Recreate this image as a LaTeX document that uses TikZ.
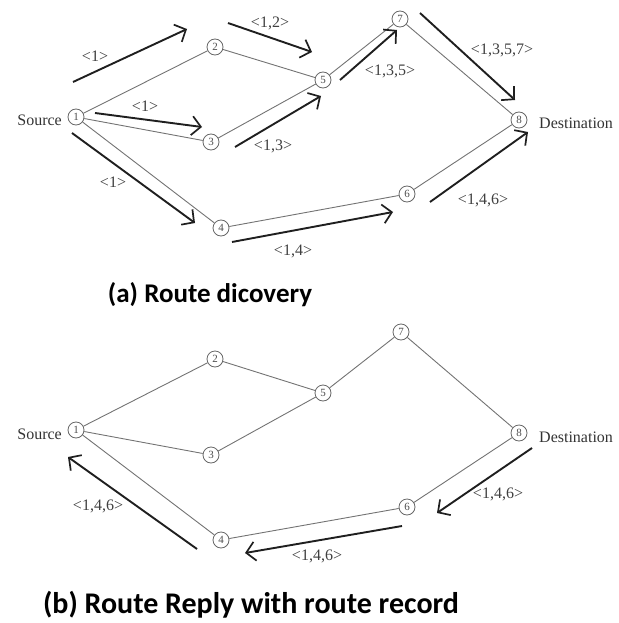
\documentclass[tikz,border=0pt]{standalone}
\usepackage{fontspec}
\setmainfont{Liberation Serif}
\newfontfamily\capfont{Carlito}
\usetikzlibrary{arrows.meta}
\begin{document}
\begin{tikzpicture}[x=1pt,y=-1pt,
  nd/.style={circle,draw=black!60,line width=0.8pt,inner sep=0pt,minimum size=16pt,font=\fontsize{11}{11}\selectfont,text=black!70},
  ed/.style={draw=black!55,line width=0.9pt},
  ar/.style={draw=black!88,line width=1.9pt,-{Straight Barb[length=9pt,width=19pt,line width=1.7pt]}},
  lb/.style={font=\fontsize{16}{16}\selectfont,text=black!75,inner sep=0pt},
  side/.style={font=\fontsize{16}{16}\selectfont,text=black!80,inner sep=0pt},
  captext/.style={font=\capfont\bfseries\fontsize{27}{27}\selectfont,inner sep=0pt}]
\useasboundingbox (0,0) rectangle (618,623);
% ---------- (a) ----------
\node[nd] (a1) at (76,117) {1};
\node[nd] (a2) at (215,47) {2};
\node[nd] (a3) at (211,142) {3};
\node[nd] (a4) at (221,228) {4};
\node[nd] (a5) at (323,80) {5};
\node[nd] (a6) at (407,194) {6};
\node[nd] (a7) at (400,19) {7};
\node[nd] (a8) at (519,120) {8};
\node[side,anchor=east] (asrc) at (62,120) {Source};
\node[side,anchor=west] (adst) at (539,123) {Destination};
\foreach \u/\v in {a1/a2,a1/a3,a1/a4,a2/a5,a3/a5,a5/a7,a7/a8,a4/a6,a6/a8}
  \draw[ed] (\u) -- (\v);
% arrows
\coordinate (p1s) at (73,82);   \coordinate (p1e) at (187,29);
\coordinate (p2s) at (95,113);  \coordinate (p2e) at (202,127);
\coordinate (p3s) at (72,133);  \coordinate (p3e) at (195,223);
\coordinate (p4s) at (228,23);  \coordinate (p4e) at (312,52);
\coordinate (p5s) at (235,147); \coordinate (p5e) at (321,96);
\coordinate (p6s) at (340,80);  \coordinate (p6e) at (397,30);
\coordinate (p7s) at (420,13);  \coordinate (p7e) at (515,100);
\coordinate (p8s) at (430,202); \coordinate (p8e) at (528,132);
\coordinate (p9s) at (232,242); \coordinate (p9e) at (393,212);
\foreach \i in {1,...,9} \draw[ar] (p\i s) -- (p\i e);
\node[lb] (l1) at (95,56) {<1>};
\node[lb] (l2) at (145,106) {<1>};
\node[lb] (l3) at (113,182) {<1>};
\node[lb] (l4) at (270,23) {<1,2>};
\node[lb] (l5) at (273,146) {<1,3>};
\node[lb] (l6) at (390,71) {<1,3,5>};
\node[lb] (l7) at (502,50) {<1,3,5,7>};
\node[lb] (l8) at (483,200) {<1,4,6>};
\node[lb] (l9) at (293,251) {<1,4>};
\node[captext] (capa) at (210,295) {(a) Route dicovery};
% ---------- (b) ----------
\node[nd] (b1) at (76,430) {1};
\node[nd] (b2) at (215,359) {2};
\node[nd] (b3) at (211,455) {3};
\node[nd] (b4) at (221,540) {4};
\node[nd] (b5) at (323,393) {5};
\node[nd] (b6) at (407,507) {6};
\node[nd] (b7) at (401,332) {7};
\node[nd] (b8) at (519,433) {8};
\node[side,anchor=east] (bsrc) at (62,434) {Source};
\node[side,anchor=west] (bdst) at (539,437) {Destination};
\foreach \u/\v in {b1/b2,b1/b3,b1/b4,b2/b5,b3/b5,b5/b7,b7/b8,b4/b6,b6/b8}
  \draw[ed] (\u) -- (\v);
\coordinate (q1s) at (197,549); \coordinate (q1e) at (68,457);
\coordinate (q2s) at (532,448); \coordinate (q2e) at (437,513);
\coordinate (q3s) at (402,526); \coordinate (q3e) at (245,553);
\foreach \i in {1,2,3} \draw[ar] (q\i s) -- (q\i e);
\node[lb] (m1) at (98,506) {<1,4,6>};
\node[lb] (m2) at (498,494) {<1,4,6>};
\node[lb] (m3) at (317,556) {<1,4,6>};
\node[captext,font=\capfont\bfseries\fontsize{30}{30}\selectfont] (capb) at (251,605) {(b) Route Reply with route record};
\end{tikzpicture}
\end{document}
